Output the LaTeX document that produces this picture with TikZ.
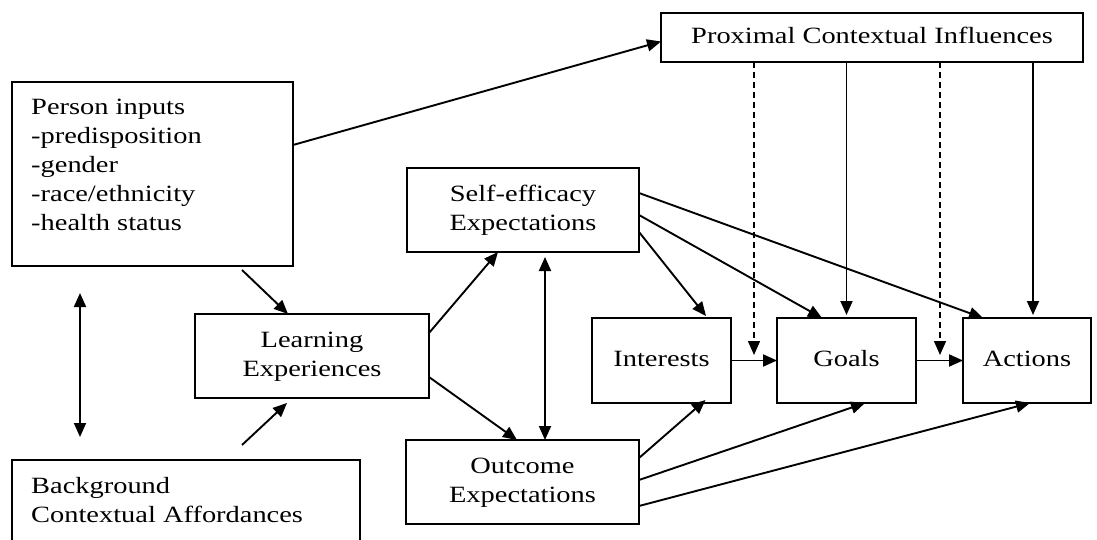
\documentclass[tikz,border=0pt]{standalone}
\usepackage{fontspec}
\setmainfont{Liberation Serif}
\usepackage{graphicx}
\usetikzlibrary{arrows.meta,calc}
\newcommand{\tb}[2][c]{\scalebox{1.22}[1]{\begin{tabular}{@{}#1@{}}#2\end{tabular}}}
\begin{document}
\begin{tikzpicture}[x=1pt,y=-1pt,
  font=\fontsize{23.3}{29}\selectfont,
  box/.style={draw, line width=2pt, inner sep=0pt, outer sep=0pt},
  tip/.style={Triangle[length=14pt,width=12pt]},
  arr/.style={line width=1.9pt, -{Triangle[length=14pt,width=12pt]}},
  darr/.style={line width=1.9pt, {Triangle[length=14pt,width=12pt]}-{Triangle[length=14pt,width=12pt]}},
  dsh/.style={arr, line width=1.5pt, dash pattern=on 6pt off 4pt}]
\useasboundingbox (0,0) rectangle (1097,540);
\fill[white] (0,0) rectangle (1097,540);
% boxes
\node[box, minimum width=281pt, minimum height=184pt] (person) at (152.5,174) {};
\node[anchor=north west, inner sep=0pt] (persontext) at (31,94)
  {\tb[l]{Person inputs\\-predisposition\\-gender\\-race/ethnicity\\-health status}};
\node[box, minimum width=348pt, minimum height=120pt] (bg) at (186,520) {};
\node[anchor=north west, inner sep=0pt] (bgtext) at (31,473)
  {\tb[l]{Background\\Contextual Affordances}};
\node[box, minimum width=422pt, minimum height=49pt] (prox) at (872,37.5) {\tb{Proximal Contextual Influences}};
\node[box, minimum width=232pt, minimum height=84pt] (self) at (523,210) {\tb{Self-efficacy\\Expectations}};
\node[box, minimum width=234pt, minimum height=84pt] (learn) at (312,356) {\tb{Learning\\Experiences}};
\node[box, minimum width=139pt, minimum height=85pt] (inter) at (661.5,360.5) {\tb{Interests}};
\node[box, minimum width=139pt, minimum height=85pt] (goals) at (846.5,360.5) {\tb{Goals}};
\node[box, minimum width=128pt, minimum height=85pt] (actions) at (1027,360.5) {\tb{Actions}};
\node[box, minimum width=233pt, minimum height=84pt] (outcome) at (522.5,482) {\tb{Outcome\\Expectations}};
% helper coordinates
\coordinate (d1) at ([xshift=-118pt]prox.south);
\coordinate (d2) at ([xshift=68pt]prox.south);
\coordinate (d3) at ([xshift=6pt]actions.north);
% connectors
\draw[arr] ([yshift=29pt]person.east) -- ([yshift=-4pt]prox.west);
\draw[arr] ([xshift=89.5pt,yshift=-4pt]person.south) -- ([xshift=-24pt]learn.north);
\draw[darr, shorten <=27pt, shorten >=23pt]
  ([xshift=-72.5pt]person.south) -- ([xshift=-106pt]bg.north);
\draw[arr] ([xshift=56pt,yshift=15pt]bg.north) -- ([xshift=-25pt,yshift=-5pt]learn.south);
\draw[arr] ([yshift=23pt]learn.east) -- ([xshift=-25pt]self.south);
\draw[arr] ([yshift=-21pt]learn.east) -- ([xshift=-5.5pt]outcome.north);
\draw[darr, shorten <=5pt]
  ([xshift=22pt]self.south) -- ([xshift=22.5pt]outcome.north);
\draw[arr] ([yshift=-22pt]self.east) -- ([xshift=44.5pt,yshift=2pt]inter.north);
\draw[arr] ([yshift=-5pt]self.east) -- ([xshift=-24.5pt]goals.north);
\draw[arr] ([yshift=17pt]self.east) -- ([xshift=-44pt]actions.north);
\draw[dsh, shorten >=5.5pt] (d1) -- (d1 |- goals.west);
\draw[arr, shorten >=3pt] (goals.north |- prox.south) -- (goals.north);
\draw[dsh, shorten >=5.5pt] (d2) -- (d2 |- goals.east);
\draw[arr, shorten >=3pt] (d3 |- prox.south) -- (d3);
\draw[arr] (inter.east) -- (goals.west);
\draw[arr] (goals.east) -- (actions.west);
\draw[arr] ([yshift=24pt]outcome.east) -- ([xshift=44pt,yshift=3pt]inter.south);
\draw[arr] ([yshift=2pt]outcome.east) -- ([xshift=18.5pt]goals.south);
\draw[arr] ([yshift=-24pt]outcome.east) -- ([xshift=3pt]actions.south);
\end{tikzpicture}
\end{document}
